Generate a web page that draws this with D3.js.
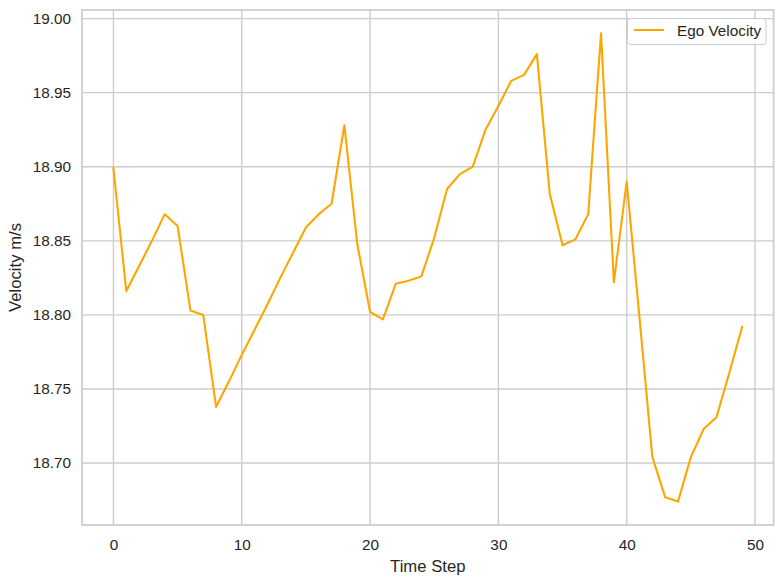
<!DOCTYPE html>
<html>
<head>
<meta charset="utf-8">
<script src="https://cdn.jsdelivr.net/npm/d3@7"></script>
<style>
  html, body { margin: 0; padding: 0; background: #fff; }
  svg { display: block; font-family: "Liberation Sans", Arial, sans-serif; }
</style>
</head>
<body>
<svg id="chart" width="784" height="584"></svg>
<script>
// ---- Data ----
const timeSteps = d3.range(0, 50);
const egoVelocity = [
  18.899, 18.816, 18.833, 18.850, 18.868, 18.860, 18.803, 18.800, 18.738, 18.755,
  18.773, 18.790, 18.807, 18.825, 18.842, 18.859, 18.868, 18.875, 18.928, 18.848,
  18.802, 18.797, 18.821, 18.823, 18.826, 18.852, 18.885, 18.895, 18.900, 18.925,
  18.941, 18.958, 18.962, 18.976, 18.882, 18.847, 18.851, 18.868, 18.990, 18.822,
  18.890, 18.798, 18.704, 18.677, 18.674, 18.704, 18.723, 18.731, 18.761, 18.792
];
const xTicks = [0, 10, 20, 30, 40, 50];
const yTicks = [18.70, 18.75, 18.80, 18.85, 18.90, 18.95, 19.00];
const seriesName = "Ego Velocity";
const xLabel = "Time Step";
const yLabel = "Velocity m/s";

(function () {
// ---- Layout ----
const pLeft = 82, pRight = 773.6, pTop = 10, pBottom = 525;
const svg = d3.select("#chart");

const xMin = d3.min(timeSteps), xMax = d3.max(timeSteps);
const xPad = (xMax - xMin) * 0.05;
const yMin = d3.min(egoVelocity), yMax = d3.max(egoVelocity);
const yPad = (yMax - yMin) * 0.05;

const x = d3.scaleLinear().domain([xMin - xPad, xMax + xPad]).range([pLeft, pRight]);
const y = d3.scaleLinear().domain([yMin - yPad, yMax + yPad]).range([pBottom, pTop]);

const gridColor = "#cccccc";
const textColor = "#262626";

// grid
const grid = svg.append("g");
grid.selectAll("line.xg").data(xTicks).enter().append("line")
  .attr("x1", d => x(d)).attr("x2", d => x(d))
  .attr("y1", pTop).attr("y2", pBottom)
  .attr("stroke", gridColor).attr("stroke-width", 1.39);
grid.selectAll("line.yg").data(yTicks).enter().append("line")
  .attr("x1", pLeft).attr("x2", pRight)
  .attr("y1", d => y(d)).attr("y2", d => y(d))
  .attr("stroke", gridColor).attr("stroke-width", 1.39);

// axes (ticks hidden, labels only)
const xAxis = d3.axisBottom(x).tickValues(xTicks).tickSize(0).tickPadding(14).tickFormat(d3.format("d"));
const yAxis = d3.axisLeft(y).tickValues(yTicks).tickSize(0).tickPadding(11).tickFormat(d3.format(".2f"));

const gx = svg.append("g").attr("transform", `translate(0,${pBottom})`).call(xAxis);
const gy = svg.append("g").attr("transform", `translate(${pLeft},0)`).call(yAxis);
[gx, gy].forEach(g => {
  g.select(".domain").remove();
  g.selectAll("text").attr("fill", textColor).style("font-size", "15.3px")
    .style("font-family", "'Liberation Sans', Arial, sans-serif");
});

// spines
svg.append("rect")
  .attr("x", pLeft).attr("y", pTop)
  .attr("width", pRight - pLeft).attr("height", pBottom - pTop)
  .attr("fill", "none").attr("stroke", gridColor).attr("stroke-width", 1.74);

// line
const line = d3.line().x((d, i) => x(timeSteps[i])).y(d => y(d));
svg.append("path").datum(egoVelocity)
  .attr("d", line)
  .attr("fill", "none").attr("stroke", "#FFA500")
  .attr("stroke-width", 2.08).attr("stroke-linejoin", "round").attr("stroke-linecap", "square");

// axis labels
svg.append("text").attr("x", (pLeft + pRight) / 2).attr("y", 572)
  .attr("text-anchor", "middle").attr("fill", textColor)
  .style("font-size", "16.7px").text(xLabel);
svg.append("text")
  .attr("transform", `translate(21,${(pTop + pBottom) / 2}) rotate(-90)`)
  .attr("text-anchor", "middle").attr("fill", textColor)
  .style("font-size", "16.7px").text(yLabel);

// legend
const lg = svg.append("g");
lg.append("rect").attr("x", 627.5).attr("y", 18.5).attr("width", 138.5).attr("height", 26)
  .attr("rx", 3).attr("ry", 3)
  .attr("fill", "white").attr("fill-opacity", 0.8)
  .attr("stroke", gridColor).attr("stroke-width", 1);
lg.append("line").attr("x1", 634).attr("x2", 664).attr("y1", 30).attr("y2", 30)
  .attr("stroke", "#FFA500").attr("stroke-width", 2.08);
lg.append("text").attr("x", 677).attr("y", 35.5).attr("fill", textColor)
  .style("font-size", "15.3px").text(seriesName);
})();
</script>
</body>
</html>
